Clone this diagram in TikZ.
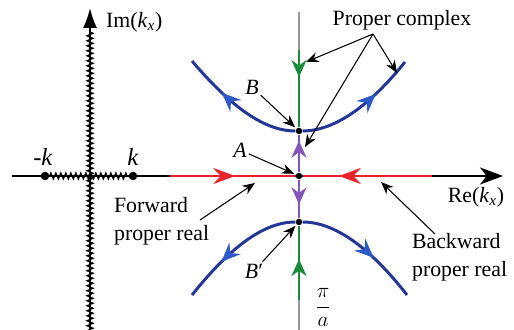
\documentclass[tikz,border=0pt]{standalone}
\usepackage{fontspec}
\setmainfont{Liberation Serif}
\usetikzlibrary{arrows.meta, decorations.markings, decorations.pathmorphing}

\definecolor{curveblue}{RGB}{35,55,150}
\definecolor{tipblue}{RGB}{45,90,200}
\definecolor{realred}{RGB}{232,35,45}
\definecolor{imgreen}{RGB}{25,140,60}
\definecolor{leakpurple}{RGB}{130,85,190}
\definecolor{axisgray}{RGB}{150,150,150}

\tikzset{
    bluetip/.tip={Stealth[length=3.8mm, width=3.2mm, inset=1.3mm, color=tipblue, fill=tipblue]},
    redtip/.tip={Stealth[length=4.4mm, width=3.2mm, inset=1.5mm, color=realred, fill=realred]},
    greentip/.tip={Stealth[length=3.4mm, width=3mm, inset=1.1mm, color=imgreen, fill=imgreen]},
    purpletip/.tip={Stealth[length=3.4mm, width=3mm, inset=1.1mm, color=leakpurple, fill=leakpurple]},
}

\begin{document}
\begin{tikzpicture}[
    x=0.02cm, y=-0.02cm,
    font=\fontsize{12.4}{15.9}\selectfont,
    axis/.style={line width=1.1pt, black},
    cut/.style={line width=0.7pt, decorate,
                decoration={zigzag, segment length=0.1cm, amplitude=0.06cm}},
    dot/.style={circle, fill=black, inner sep=0pt, minimum size=0.13cm},
    bigdot/.style={dot, minimum size=0.17cm},
    lbl/.style={inner sep=1pt},
    klbl/.style={lbl, font=\fontsize{14}{16}\selectfont},
    pointer/.style={-{Stealth[length=2.5mm, width=2mm]}, line width=0.6pt},
    bluecurve/.style={line width=1.7pt, curveblue},
    redline/.style={line width=1.7pt, realred},
    greenline/.style={line width=1.5pt, imgreen},
    purpleline/.style={line width=1.5pt, leakpurple},
    grayline/.style={line width=1.5pt, axisgray},
    flow/.style 2 args={postaction={decorate,
        decoration={markings, mark=at position #1 with {\arrow{#2}}}}},
]
\useasboundingbox (0,0) rectangle (514,330);

% === axes and branch cuts ===
\coordinate (imBot) at (90,332);
\coordinate (imTop) at (90,8);
\coordinate (cutTop) at (90,30);
\coordinate (reL) at (12,176);
\coordinate (reR) at (503,176);
\draw[axis, -{Latex[length=4mm, width=2.8mm]}] (imBot) -- (imTop);
\draw[axis, -{Stealth[length=4.6mm, width=3.4mm, inset=1.3mm]}] (reL) -- (reR);
\node[bigdot] (mk) at (45,176) {};
\node[bigdot] (pk) at (133,176) {};
\draw[cut] (imBot) -- (cutTop);
\draw[cut] (mk) -- (pk);

\node[lbl, anchor=west] (imlab) at (104,22) {Im(\textit{k}\textsubscript{\textit{x}})};
\node[lbl] (relab) at (476,197) {Re(\textit{k}\textsubscript{\textit{x}})};
\node[klbl] (mklab) at (43,157) {-\textit{k}};
\node[klbl] (pklab) at (133,157) {\textit{k}};

% === branch points on the line Re = pi/a ===
\node[dot] (B) at (299,131) {};
\node[dot] (A) at (299,176) {};
\node[dot] (Bp) at (299,222) {};
\coordinate (vTop) at (299,12);
\coordinate (vG1) at (299,50);
\coordinate (vG2) at (299,300);
\coordinate (vBot) at (299,332);

\draw[grayline] (vTop) -- (vG1);
\draw[greenline, flow={0.35}{greentip}] (vG1) -- (B);
\draw[purpleline, flow={0.84}{purpletip}] (A) -- (B);
\draw[purpleline, flow={0.64}{purpletip}] (A) -- (Bp);
\draw[greenline, flow={0.55}{greentip}] (vG2) -- (Bp);
\draw[grayline] (vG2) -- (vBot);

% === proper real ===
\coordinate (redL) at (170,176);
\coordinate (redR) at (432,176);
\draw[redline, flow={0.52}{redtip}] (redL) -- (A);
\draw[redline, flow={0.72}{redtip}] (redR) -- (A);

% === proper complex ===
\coordinate (upL) at (192,61);
\coordinate (upR) at (405,62);
\coordinate (loL) at (192,295);
\coordinate (loR) at (407,295);
\draw[bluecurve, flow={0.66}{bluetip}] (B) .. controls (265,131) and (232,108) .. (upL);
\draw[bluecurve, flow={0.66}{bluetip}] (B) .. controls (333,131) and (368,108) .. (upR);
\draw[bluecurve, flow={0.66}{bluetip}] (Bp) .. controls (265,222) and (232,245) .. (loL);
\draw[bluecurve, flow={0.62}{bluetip}] (Bp) .. controls (333,222) and (368,245) .. (loR);

% === labels and pointers ===
\node[lbl] (pc) at (402,20) {Proper complex};
\coordinate (pcFoot) at (373,34);
\coordinate (pcG) at (306,62);
\coordinate (pcU) at (397,73);
\coordinate (pcP) at (305,147);
\draw[pointer] (pcFoot) -- (pcG);
\draw[pointer] (pcFoot) -- (pcU);
\draw[pointer] (pcFoot) -- (pcP);

\node[lbl] (Blab) at (252,87) {\textit{B}};
\node[lbl] (Alab) at (240,150) {\textit{A}};
\node[lbl] (Bplab) at (254,271) {\textit{B}′};
\draw[pointer, shorten >=1pt] (Blab) -- (B);
\draw[pointer, shorten >=1pt] (Alab) -- (A);
\draw[pointer, shorten >=1pt] (Bplab) -- (Bp);

\node[lbl, anchor=west, align=left] (fw) at (112,221) {Forward\\proper real};
\coordinate (fwFoot) at (200,220);
\coordinate (fwTip) at (255,183);
\draw[pointer] (fwFoot) -- (fwTip);

\node[lbl, anchor=west, align=left] (bw) at (410,257) {Backward\\proper real};
\coordinate (bwFoot) at (435,234);
\coordinate (bwTip) at (381,182);
\draw[pointer] (bwFoot) -- (bwTip);

\node[inner sep=0pt, anchor=south, font=\fontsize{13}{15}\selectfont] (pia) at (323,327)
    {$\displaystyle\frac{\pi}{a}$};

\end{tikzpicture}
\end{document}
